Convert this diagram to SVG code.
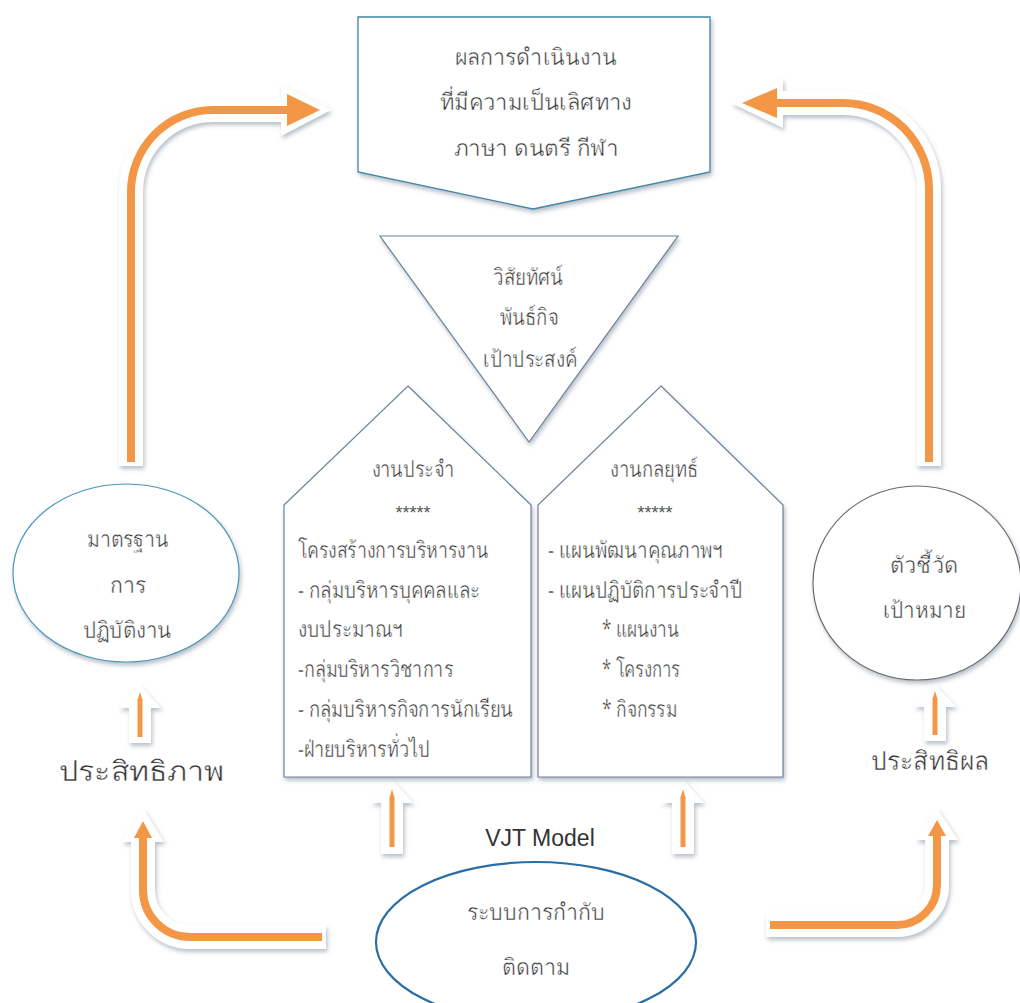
<svg xmlns="http://www.w3.org/2000/svg" width="1020" height="1003" viewBox="0 0 1020 1003">
<defs>
<filter id="sh" x="-20%" y="-20%" width="140%" height="140%">
<feDropShadow dx="1.5" dy="3" stdDeviation="2" flood-color="#7f8c9d" flood-opacity="0.55"/>
</filter>
<style>
.bg{fill:#ffffff}
.shape{fill:#ffffff;filter:url(#sh)}
.t{font-family:"Noto Sans","DejaVu Sans",sans-serif;font-size:23px;fill:#333333;stroke:#ffffff;stroke-width:0.45px}
.c{text-anchor:middle}
.star{font-family:"Liberation Sans",sans-serif;font-size:18px;fill:#555555;text-anchor:middle}
.en{font-family:"Liberation Sans",Arial,sans-serif;font-size:23px;fill:#333333;text-anchor:middle}
.wline{fill:none;stroke:#ffffff;stroke-width:24}
.oline{fill:none;stroke:#f39646;stroke-width:8}
.ohead{fill:#f39646}
.whead{fill:#ffffff}
.sline{stroke:#f39646;stroke-width:5}
</style>
</defs>
<rect class="bg" x="0" y="0" width="1020" height="1003"/>

<g id="connectors">
  <g filter="url(#sh)">
    <path class="wline" d="M131,466 L131,192 A82,82 0 0 1 213,110 L287,110"/>
    <polygon class="whead" points="281,84 331,110 281,136"/>
  </g>
  <path class="oline" d="M131,462 L131,192 A82,82 0 0 1 213,110 L289,110"/>
  <polygon class="ohead" points="287,94 320,110 287,126"/>

  <g filter="url(#sh)">
    <path class="wline" d="M929,466 L929,189 A86,86 0 0 0 843,103 L777,103"/>
    <polygon class="whead" points="783,78 731,103 783,128"/>
  </g>
  <path class="oline" d="M929,462 L929,189 A86,86 0 0 0 843,103 L775,103"/>
  <polygon class="ohead" points="777,88 742,103 777,118"/>

  <g filter="url(#sh)">
    <path class="wline" d="M326,937 L190,937 A47,47 0 0 1 143,890 L143,840"/>
    <polygon class="whead" points="122,842 143,808 164,842"/>
  </g>
  <path class="oline" d="M322,937 L190,937 A47,47 0 0 1 143,890 L143,836"/>
  <polygon class="ohead" points="134,838 143,821 152,838"/>

  <g filter="url(#sh)">
    <path class="wline" d="M766,925 L897,925 A40,40 0 0 0 937,885 L937,838"/>
    <polygon class="whead" points="916,840 937,808 958,840"/>
  </g>
  <path class="oline" d="M770,925 L897,925 A40,40 0 0 0 937,885 L937,834"/>
  <polygon class="ohead" points="928,836 937,820 946,836"/>

  <g filter="url(#sh)">
    <polygon class="whead" points="119,708 140,685 161,708 151,708 151,743 129,743 129,708"/>
    <polygon class="whead" points="914,707 935,684 956,707 946,707 946,741 924,741 924,707"/>
    <polygon class="whead" points="371,803 392,779 413,803 403,803 403,854 381,854 381,803"/>
    <polygon class="whead" points="662,803 683,779 704,803 694,803 694,854 672,854 672,803"/>
  </g>
  <line class="sline" x1="140" y1="699" x2="140" y2="737"/>
  <polygon class="ohead" points="137.5,700 140,692 142.5,700"/>
  <line class="sline" x1="935" y1="698" x2="935" y2="735"/>
  <polygon class="ohead" points="932.5,699 935,691 937.5,699"/>
  <line class="sline" x1="392" y1="797" x2="392" y2="847"/>
  <polygon class="ohead" points="389.5,798 392,789 394.5,798"/>
  <line class="sline" x1="683" y1="797" x2="683" y2="847"/>
  <polygon class="ohead" points="680.5,798 683,789 685.5,798"/>
</g>

<g id="node-result">
  <polygon class="shape" points="358,17 710,17 710,172 533,209 358,172" stroke="#3f86a8" stroke-width="1.3"/>
  <text class="t c" x="536" y="65" textLength="162" lengthAdjust="spacingAndGlyphs">ผลการดำเนินงาน</text>
  <text class="t c" x="536" y="110" textLength="192" lengthAdjust="spacingAndGlyphs">ที่มีความเป็นเลิศทาง</text>
  <text class="t c" x="536" y="156" textLength="165" lengthAdjust="spacingAndGlyphs">ภาษา ดนตรี  กีฬา</text>
</g>

<g id="node-vision">
  <polygon class="shape" points="380,236 678,236 529,442" stroke="#6f8098" stroke-width="1.2"/>
  <text class="t c" x="528" y="285" textLength="70" lengthAdjust="spacingAndGlyphs">วิสัยทัศน์</text>
  <text class="t c" x="529" y="325" textLength="58" lengthAdjust="spacingAndGlyphs">พันธ์กิจ</text>
  <text class="t c" x="530" y="367" textLength="94" lengthAdjust="spacingAndGlyphs">เป้าประสงค์</text>
</g>

<g id="node-routine">
  <polygon class="shape" points="408,386 531,505 531,777 284,777 284,505" stroke="#6f8098" stroke-width="1.2"/>
  <text class="t c" x="413" y="477" textLength="83" lengthAdjust="spacingAndGlyphs">งานประจำ</text>
  <text class="star" x="413" y="519">*****</text>
  <text class="t" x="298" y="558" textLength="190" lengthAdjust="spacingAndGlyphs">โครงสร้างการบริหารงาน</text>
  <text class="t" x="298" y="598" textLength="182" lengthAdjust="spacingAndGlyphs">- กลุ่มบริหารบุคคลและ</text>
  <text class="t" x="298" y="637" textLength="105" lengthAdjust="spacingAndGlyphs">งบประมาณฯ</text>
  <text class="t" x="298" y="677" textLength="155" lengthAdjust="spacingAndGlyphs">-กลุ่มบริหารวิชาการ</text>
  <text class="t" x="298" y="717" textLength="215" lengthAdjust="spacingAndGlyphs">- กลุ่มบริหารกิจการนักเรียน</text>
  <text class="t" x="298" y="757" textLength="132" lengthAdjust="spacingAndGlyphs">-ฝ่ายบริหารทั่วไป</text>
</g>

<g id="node-strategic">
  <polygon class="shape" points="661,386 783,505 783,777 538,777 538,505" stroke="#6f8098" stroke-width="1.2"/>
  <text class="t c" x="654" y="477" textLength="88" lengthAdjust="spacingAndGlyphs">งานกลยุทธ์</text>
  <text class="star" x="655" y="519">*****</text>
  <text class="t" x="548" y="558" textLength="175" lengthAdjust="spacingAndGlyphs">- แผนพัฒนาคุณภาพฯ</text>
  <text class="t" x="548" y="598" textLength="194" lengthAdjust="spacingAndGlyphs">- แผนปฏิบัติการประจำปี</text>
  <text class="t" x="602" y="637" textLength="77" lengthAdjust="spacingAndGlyphs">* แผนงาน</text>
  <text class="t" x="602" y="677" textLength="78" lengthAdjust="spacingAndGlyphs">* โครงการ</text>
  <text class="t" x="602" y="717" textLength="75" lengthAdjust="spacingAndGlyphs">* กิจกรรม</text>
</g>

<g id="node-standard">
  <ellipse class="shape" cx="126" cy="573" rx="113" ry="89" stroke="#4a96bd" stroke-width="1.2"/>
  <text class="t c" x="128" y="547" textLength="82" lengthAdjust="spacingAndGlyphs">มาตรฐาน</text>
  <text class="t c" x="128" y="593" textLength="36" lengthAdjust="spacingAndGlyphs">การ</text>
  <text class="t c" x="127" y="638" textLength="89" lengthAdjust="spacingAndGlyphs">ปฏิบัติงาน</text>
</g>

<g id="node-indicator">
  <ellipse class="shape" cx="917" cy="583" rx="104" ry="97" stroke="#6b6b6b" stroke-width="1.2"/>
  <text class="t c" x="924" y="573" textLength="68" lengthAdjust="spacingAndGlyphs">ตัวชี้วัด</text>
  <text class="t c" x="924" y="618" textLength="83" lengthAdjust="spacingAndGlyphs">เป้าหมาย</text>
</g>

<g id="label-efficiency">
  <text class="t c" x="141" y="781" style="font-size:28px" textLength="165" lengthAdjust="spacingAndGlyphs">ประสิทธิภาพ</text>
</g>
<g id="label-effectiveness">
  <text class="t c" x="930" y="770" style="font-size:26px" textLength="118" lengthAdjust="spacingAndGlyphs">ประสิทธิผล</text>
</g>

<g id="label-model">
  <text class="en" x="540" y="846">VJT Model</text>
</g>

<g id="node-monitor">
  <ellipse cx="536" cy="942" rx="160" ry="80" fill="#ffffff" stroke="#2a6ea6" stroke-width="2.2"/>
  <text class="t c" x="536" y="920" textLength="138" lengthAdjust="spacingAndGlyphs">ระบบการกำกับ</text>
  <text class="t c" x="536" y="975" textLength="68" lengthAdjust="spacingAndGlyphs">ติดตาม</text>
</g>
</svg>
